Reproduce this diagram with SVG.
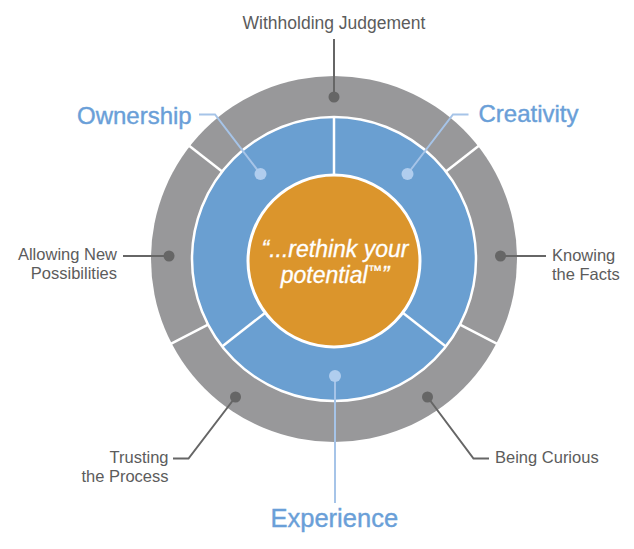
<svg xmlns="http://www.w3.org/2000/svg" width="634" height="549" viewBox="0 0 634 549">
<style>
.lbl{font-family:"Liberation Sans",Arial,sans-serif;font-size:16.5px;fill:#5c5c5c}
.big{font-family:"Liberation Sans",Arial,sans-serif;font-size:24px;fill:#6a9fd8;stroke:#6a9fd8;stroke-width:0.4}
.ctr{font-family:"Liberation Sans",Arial,sans-serif;font-size:23px;font-style:italic;fill:#ffffff;stroke:#ffffff;stroke-width:0.3}
.div{stroke:#ffffff;stroke-width:2.5}
.gl{fill:none;stroke:#666666;stroke-width:2}
.bl{fill:none;stroke:#a6c4e8;stroke-width:2}
.gd{fill:#666666}
.bd{fill:#b0cdee}
</style>
<rect width="634" height="549" fill="#ffffff"/>
<g id="outer-ring">
<circle cx="334" cy="259" r="183" fill="#98989a"/>
<line class="div" x1="222.1" y1="171.6" x2="188.5" y2="145.3"/>
<line class="div" x1="445.9" y1="171.6" x2="479.5" y2="145.3"/>
<line class="div" x1="460" y1="324.6" x2="497.7" y2="344.2"/>
<line class="div" x1="208" y1="324.6" x2="170.3" y2="344.2"/>
</g>
<g id="middle-ring">
<circle cx="334" cy="259" r="142" fill="#6a9fd1" stroke="#ffffff" stroke-width="2.5"/>
<line class="div" x1="334" y1="175" x2="334" y2="117"/>
<line class="div" x1="400.2" y1="310.7" x2="445.9" y2="346.4"/>
<line class="div" x1="267.8" y1="310.7" x2="222.1" y2="346.4"/>
</g>
<g id="core">
<circle cx="334" cy="261" r="86" fill="#db952c" stroke="#ffffff" stroke-width="3"/>
<text class="ctr" x="335" y="257" text-anchor="middle">“...rethink your</text>
<text class="ctr" x="335" y="283" text-anchor="middle">potential<tspan font-size="14" dy="-8">™</tspan><tspan dy="8">”</tspan></text>
</g>
<g id="connectors">
<polyline class="gl" points="334,39 334,97"/>
<polyline class="gl" points="123,256 169,256"/>
<polyline class="gl" points="500.5,256 546,256"/>
<polyline class="gl" points="235.5,397 188.5,458.5 173,458.5"/>
<polyline class="gl" points="427.5,397 473.5,458.5 489,458.5"/>
<polyline class="bl" points="199,114.5 215,114.5 260.5,174"/>
<polyline class="bl" points="468.5,114.5 453,114.5 407.5,174"/>
<polyline class="bl" points="335,376 335,503"/>
</g>
<g id="withholding-judgement">
<circle class="gd" cx="334" cy="97" r="5.5"/>
<text class="lbl" x="334" y="29" text-anchor="middle" style="font-size:17.5px">Withholding Judgement</text>
</g>
<g id="allowing-new-possibilities">
<circle class="gd" cx="169" cy="256" r="5.5"/>
<text class="lbl" x="117" y="260" text-anchor="end">Allowing New</text>
<text class="lbl" x="117" y="279" text-anchor="end">Possibilities</text>
</g>
<g id="knowing-the-facts">
<circle class="gd" cx="500.5" cy="256" r="5.5"/>
<text class="lbl" x="552" y="261">Knowing</text>
<text class="lbl" x="552" y="280">the Facts</text>
</g>
<g id="trusting-the-process">
<circle class="gd" cx="235.5" cy="397" r="5.5"/>
<text class="lbl" x="168.5" y="463" text-anchor="end">Trusting</text>
<text class="lbl" x="168.5" y="482" text-anchor="end">the Process</text>
</g>
<g id="being-curious">
<circle class="gd" cx="427.5" cy="397" r="5.5"/>
<text class="lbl" x="495" y="463">Being Curious</text>
</g>
<g id="ownership">
<circle class="bd" cx="260.5" cy="174" r="6"/>
<text class="big" x="77" y="123.5">Ownership</text>
</g>
<g id="creativity">
<circle class="bd" cx="407.5" cy="174" r="6"/>
<text class="big" x="478.5" y="122">Creativity</text>
</g>
<g id="experience">
<circle class="bd" cx="335" cy="376" r="6"/>
<text class="big" x="270.5" y="527" style="font-size:25.5px">Experience</text>
</g>
</svg>
